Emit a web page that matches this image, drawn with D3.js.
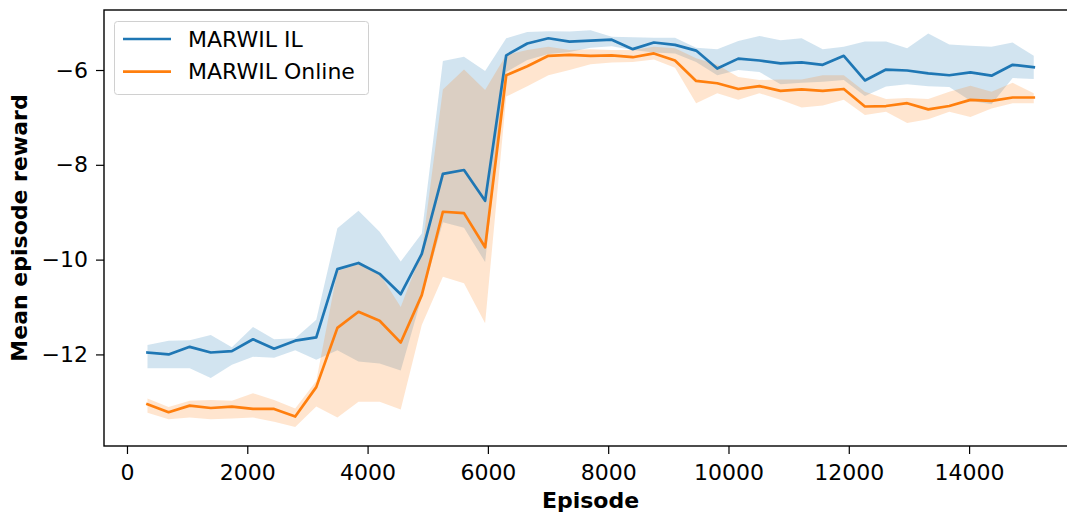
<!DOCTYPE html>
<html>
<head>
<meta charset="utf-8">
<script src="https://cdn.jsdelivr.net/npm/d3@7"></script>
<style>
  html, body { margin: 0; padding: 0; background: #ffffff; overflow: hidden; }
  svg { display: block; font-family: "DejaVu Sans", sans-serif; }
</style>
</head>
<body>
<svg id="chart" width="1067" height="514"></svg>
<script>
// ---- data ----
const episodes = [341, 692, 1043, 1393, 1744, 2095, 2446, 2797, 3147, 3498, 3849, 4200, 4551, 4901, 5252, 5603, 5954, 6305, 6655, 7006, 7357, 7708, 8059, 8409, 8760, 9111, 9462, 9813, 10163, 10514, 10865, 11216, 11567, 11917, 12268, 12619, 12970, 13321, 13671, 14022, 14373, 14724, 15075];

const ilMean = [-11.96, -12.00, -11.84, -11.96, -11.93, -11.68, -11.88, -11.71, -11.64, -10.20, -10.07, -10.30, -10.73, -9.88, -8.19, -8.11, -8.76, -5.69, -5.44, -5.33, -5.40, -5.38, -5.36, -5.56, -5.42, -5.47, -5.59, -5.97, -5.76, -5.80, -5.86, -5.84, -5.89, -5.70, -6.22, -5.99, -6.01, -6.07, -6.11, -6.05, -6.12, -5.89, -5.94];
const ilUpper = [-11.80, -11.71, -11.70, -11.59, -11.85, -11.42, -11.68, -11.66, -11.27, -9.34, -8.97, -9.41, -10.04, -9.45, -5.81, -5.72, -6.02, -5.33, -5.20, -5.18, -5.19, -5.16, -5.30, -5.31, -5.32, -5.32, -5.53, -5.56, -5.39, -5.28, -5.37, -5.33, -5.56, -5.51, -5.40, -5.40, -5.54, -5.23, -5.46, -5.49, -5.51, -5.42, -5.70];
const ilLower = [-12.29, -12.29, -12.29, -12.50, -12.22, -12.05, -12.07, -11.91, -12.11, -11.91, -12.15, -12.19, -12.34, -10.79, -9.21, -9.33, -10.05, -6.04, -5.79, -5.66, -5.62, -5.53, -5.50, -5.58, -5.63, -5.65, -5.83, -6.11, -6.00, -6.04, -6.30, -6.27, -6.25, -6.21, -6.55, -6.35, -6.30, -6.34, -6.36, -6.65, -6.72, -6.17, -6.19];

const onMean = [-13.05, -13.22, -13.08, -13.13, -13.10, -13.15, -13.15, -13.31, -12.69, -11.44, -11.10, -11.29, -11.75, -10.75, -8.99, -9.02, -9.74, -6.11, -5.92, -5.70, -5.68, -5.70, -5.69, -5.73, -5.65, -5.80, -6.23, -6.28, -6.40, -6.34, -6.44, -6.41, -6.44, -6.40, -6.77, -6.76, -6.70, -6.83, -6.76, -6.63, -6.65, -6.58, -6.58];
const onUpper = [-12.93, -13.11, -12.98, -12.96, -12.98, -12.82, -12.96, -13.14, -12.56, -10.24, -10.09, -10.30, -11.00, -9.84, -6.41, -5.99, -6.42, -5.68, -5.58, -5.51, -5.58, -5.56, -5.58, -5.58, -5.51, -5.54, -5.75, -5.89, -6.15, -6.21, -6.20, -6.20, -6.11, -6.11, -6.46, -6.61, -6.59, -6.61, -6.46, -6.33, -6.46, -6.27, -6.49];
const onLower = [-13.23, -13.37, -13.33, -13.37, -13.35, -13.33, -13.42, -13.53, -13.10, -13.33, -13.00, -13.00, -13.16, -11.38, -10.36, -10.50, -11.34, -6.56, -6.34, -6.11, -6.00, -5.88, -5.84, -5.83, -5.78, -5.95, -6.70, -6.49, -6.63, -6.49, -6.63, -6.79, -6.75, -6.63, -6.95, -6.88, -7.12, -7.04, -6.88, -6.99, -6.81, -6.70, -6.70];

const xTicks = [0, 2000, 4000, 6000, 8000, 10000, 12000, 14000];
const yTicks = [-12, -10, -8, -6];
const seriesNames = ["MARWIL IL", "MARWIL Online"];
const seriesColors = ["#1f77b4", "#ff7f0e"];

// ---- layout ----
const svg = d3.select("#chart");
// the axes box extends slightly past the right edge of the picture (as in the reference)
const L = 104, R = 1077, T = 10, B = 446;

const x = d3.scaleLinear().domain([-382, 15794]).range([L, R]);
const y = d3.scaleLinear().domain([-13.932, -4.734]).range([B, T]);

const series = [
  { name: seriesNames[0], color: seriesColors[0], mean: ilMean, lo: ilLower, hi: ilUpper },
  { name: seriesNames[1], color: seriesColors[1], mean: onMean, lo: onLower, hi: onUpper }
];

const plot = svg.append("g");
plot.append("clipPath").attr("id", "clip")
  .append("rect").attr("x", L).attr("y", T).attr("width", R - L).attr("height", B - T);
const inner = plot.append("g").attr("clip-path", "url(#clip)");

const ptsOf = s => episodes.map((e, i) => ({ e, m: s.mean[i], lo: s.lo[i], hi: s.hi[i] }));
const line = d3.line().x(d => x(d.e)).y(d => y(d.m));
const area = d3.area().x(d => x(d.e)).y0(d => y(d.lo)).y1(d => y(d.hi));

series.forEach(s => {
  inner.append("path").datum(ptsOf(s)).attr("d", area)
    .attr("fill", s.color).attr("fill-opacity", 0.2).attr("stroke", "none");
});
series.forEach(s => {
  inner.append("path").datum(ptsOf(s)).attr("d", line)
    .attr("fill", "none").attr("stroke", s.color).attr("stroke-width", 2.7)
    .attr("stroke-linejoin", "round").attr("stroke-linecap", "square");
});

// ---- axes ----
const fs = 22;
const xAxis = d3.axisBottom(x).tickValues(xTicks).tickSize(8).tickPadding(10).tickFormat(d3.format("d"));
const gx = svg.append("g").attr("transform", `translate(0,${B})`).call(xAxis);
gx.select(".domain").remove();
gx.selectAll(".tick line").attr("stroke", "#000").attr("stroke-width", 1.2);
gx.selectAll(".tick text").attr("font-size", fs).attr("fill", "#000").attr("font-family", "DejaVu Sans");

const yAxis = d3.axisLeft(y).tickValues(yTicks).tickSize(8).tickPadding(8).tickFormat(d3.format("d"));
const gy = svg.append("g").attr("transform", `translate(${L},0)`).call(yAxis);
gy.select(".domain").remove();
gy.selectAll(".tick line").attr("stroke", "#000").attr("stroke-width", 1.2);
gy.selectAll(".tick text").attr("font-size", fs).attr("fill", "#000").attr("font-family", "DejaVu Sans");

// spines
svg.append("rect").attr("x", L).attr("y", T).attr("width", R - L).attr("height", B - T)
  .attr("fill", "none").attr("stroke", "#000").attr("stroke-width", 1.4);

// axis labels
svg.append("text").attr("x", (L + R) / 2).attr("y", 508).attr("text-anchor", "middle")
  .attr("font-size", fs).attr("font-weight", "bold").text("Episode");
svg.append("text").attr("transform", `translate(27,${(T + B) / 2}) rotate(-90)`)
  .attr("text-anchor", "middle").attr("font-size", fs).attr("font-weight", "bold")
  .text("Mean episode reward");

// legend
const lg = svg.append("g");
lg.append("rect").attr("x", 114.5).attr("y", 21.5).attr("width", 254).attr("height", 73)
  .attr("rx", 3).attr("fill", "#fff").attr("fill-opacity", 0.8)
  .attr("stroke", "#d0d0d0").attr("stroke-width", 1);
series.forEach((s, i) => {
  const yy = 39 + i * 32.7;
  lg.append("line").attr("x1", 123).attr("x2", 171).attr("y1", yy).attr("y2", yy)
    .attr("stroke", s.color).attr("stroke-width", 2.7);
  lg.append("text").attr("x", 188).attr("y", yy + 7.5).attr("font-size", fs).attr("fill", "#000")
    .text(s.name);
});
</script>
</body>
</html>
